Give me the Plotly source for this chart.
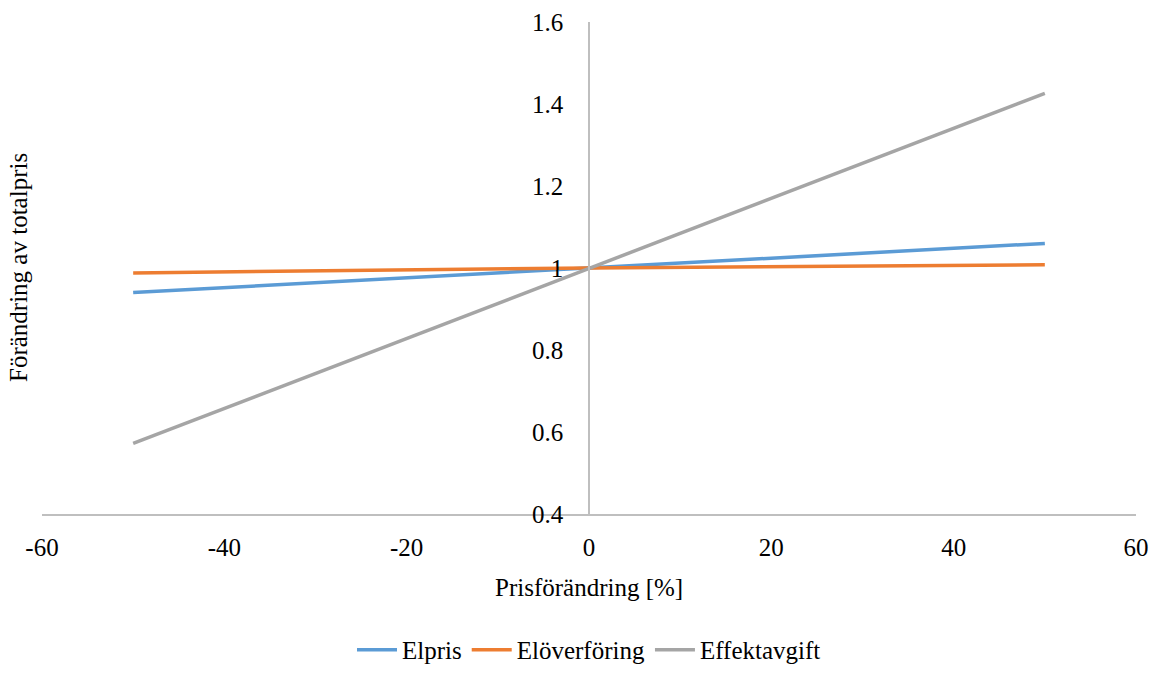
import plotly.graph_objects as go

x_vals = [-50, 0, 50]
elpris = [0.94, 1.0, 1.06]
eloverforing = [0.988, 1.0, 1.008]
effektavgift = [0.572, 1.0, 1.426]

x_ticks = [-60, -40, -20, 0, 20, 40, 60]
x_ticktext = ["-60", "-40", "-20", "0", "20", "40", "60"]
y_ticks = [0.4, 0.6, 0.8, 1.0, 1.2, 1.4, 1.6]
y_ticktext = ["0.4", "0.6", "0.8", "1", "1.2", "1.4", "1.6"]

FONT = "Liberation Serif, 'DejaVu Serif', serif"
F_TICK = dict(family=FONT, size=25, color="#000000")
F_TITLE = dict(family=FONT, size=25, color="#000000")
F_LEG = dict(family=FONT, size=25, color="#000000")

fig = go.Figure()
for name, ys, col in [("Elpris", elpris, "#5B9BD5"),
                      ("Elöverföring", eloverforing, "#ED7D31"),
                      ("Effektavgift", effektavgift, "#A5A5A5")]:
    fig.add_trace(go.Scatter(x=x_vals, y=ys, mode="lines", name=name,
                             line=dict(color=col, width=3.5)))

fig.update_layout(
    width=1158, height=675,
    margin=dict(l=42, r=22, t=22, b=161, autoexpand=False),
    plot_bgcolor="white", paper_bgcolor="white",
    font=F_TICK,
    xaxis=dict(range=[-60, 60], tickvals=x_ticks, ticktext=x_ticktext,
               showgrid=False, zeroline=False, automargin=False,
               showline=True, linecolor="#BFBFBF", linewidth=1.5, ticks="",
               ticklabelstandoff=10, tickfont=F_TICK),
    yaxis=dict(range=[0.4, 1.6], tickvals=y_ticks, ticktext=y_ticktext,
               showgrid=False, zeroline=False, showline=True, linecolor="#BFBFBF",
               linewidth=1.5, ticks="", anchor="free", position=0.5, automargin=False,
               ticklabelstandoff=20, tickfont=F_TICK),
    legend=dict(orientation="h", x=0.5, xanchor="center", yref="container",
                y=0.003, yanchor="bottom", font=F_LEG, traceorder="normal",
                itemwidth=40),
    showlegend=True,
)

fig.add_annotation(text="Prisförändring [%]", xref="paper", yref="paper",
                   x=0.5, y=-0.150, xanchor="center", yanchor="middle",
                   showarrow=False, font=F_TITLE)
fig.add_annotation(text="Förändring av totalpris", xref="paper", yref="paper",
                   x=0, xshift=-24, y=0.5, xanchor="center", yanchor="middle",
                   textangle=-90, showarrow=False, font=F_TITLE)

fig.write_html("out.html")
